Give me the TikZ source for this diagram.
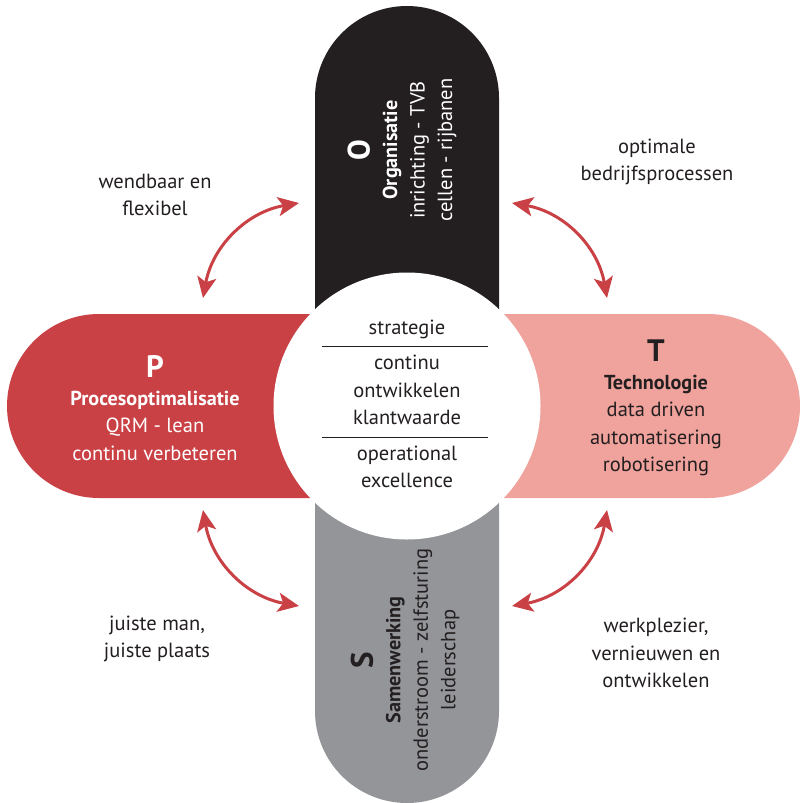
\documentclass[tikz,border=0pt]{standalone}
\usepackage{fontspec}
\setmainfont{PT Sans}
\usepackage{tikz}
\usetikzlibrary{
	arrows.meta,
	positioning
}

\definecolor{ptzwart}{HTML}{231F20}
\definecolor{ptrood}{HTML}{C94145}
\definecolor{ptroze}{HTML}{F0A29C}
\definecolor{ptgrijs}{HTML}{939598}

\tikzset{
	tekst/.style={align=center, inner sep=0pt, text=ptzwart,
		font=\fontsize{20.5}{27.5}\selectfont},
	pijl/.style={draw=ptrood, line width=3pt, bend left=35,
		{Stealth[length=21pt,width=19pt,inset=5pt]}-{Stealth[length=21pt,width=19pt,inset=5pt]}}
}
\newcommand{\kop}[1]{{\fontsize{31}{27.5}\selectfont\bfseries #1}}
\newcommand{\naam}[1]{{\fontsize{20.2}{27.5}\selectfont\bfseries #1}}

\begin{document}
\begin{tikzpicture}[x=1pt,y=-1pt]
		\useasboundingbox (0,0) rectangle (801,803);

		% de vier pijlers
		\fill[ptzwart] (315,406) -- (315,98) arc[start angle=180,end angle=0,radius=92pt] -- (499,406) -- cycle;
		\fill[ptgrijs] (315,406) -- (315,711) arc[start angle=180,end angle=360,radius=92pt] -- (499,406) -- cycle;
		\fill[ptrood]  (407,314) -- (99,314) arc[start angle=90,end angle=270,radius=92pt] -- (407,498) -- cycle;
		\fill[ptroze]  (407,314) -- (708,314) arc[start angle=90,end angle=-90,radius=92pt] -- (407,498) -- cycle;

		% kern
		\node[circle,fill=white,minimum size=267pt,inner sep=0pt] (kern) at (407,406) {};
		\node[tekst] (strategie) at (407,329) {strategie};
		\node[tekst] (klant)     at (407,390) {continu\\ontwikkelen\\klantwaarde};
		\node[tekst] (excellent) at (407,467) {operational\\excellence};
		\draw[ptzwart,line width=1pt] (322,346) -- (488,346);
		\draw[ptzwart,line width=1pt] (322,437) -- (488,437);

		% pijlers
		\node[tekst,text=white,rotate=90] (orgO) at (402,150)
			{\kop{O}\\\naam{Organisatie}\\inrichting - TVB\\cellen - rijbanen};
		\node[tekst,text=white] (procP) at (155,408)
			{\kop{P}\\\naam{Procesoptimalisatie}\\QRM - lean\\continu verbeteren};
		\node[tekst] (techT) at (656,408)
			{\kop{T}\\\naam{Technologie}\\data driven\\automatisering\\robotisering};
		\node[tekst,rotate=90] (samS) at (405,660)
			{\kop{S}\\\naam{Samenwerking}\\onderstroom - zelfsturing\\leiderschap};

		% verbanden
		\node[tekst] (wendbaar) at (155,195) {wendbaar en\\flexibel};
		\node[tekst] (optimaal) at (657,162) {optimale\\bedrijfsprocessen};
		\node[tekst] (juiste)   at (157,639) {juiste man,\\juiste plaats};
		\node[tekst] (plezier)  at (656,653) {werkplezier,\\vernieuwen en\\ontwikkelen};

		\coordinate (po) at (203,298);
		\coordinate (op) at (299,203);
		\coordinate (ot) at (512,203);
		\coordinate (to) at (607,298);
		\coordinate (ts) at (607,510);
		\coordinate (st) at (512,606);
		\coordinate (sp) at (299,606);
		\coordinate (ps) at (203,510);

		\draw[pijl] (po) to (op);
		\draw[pijl] (ot) to (to);
		\draw[pijl] (ts) to (st);
		\draw[pijl] (sp) to (ps);
	\end{tikzpicture}
\end{document}
